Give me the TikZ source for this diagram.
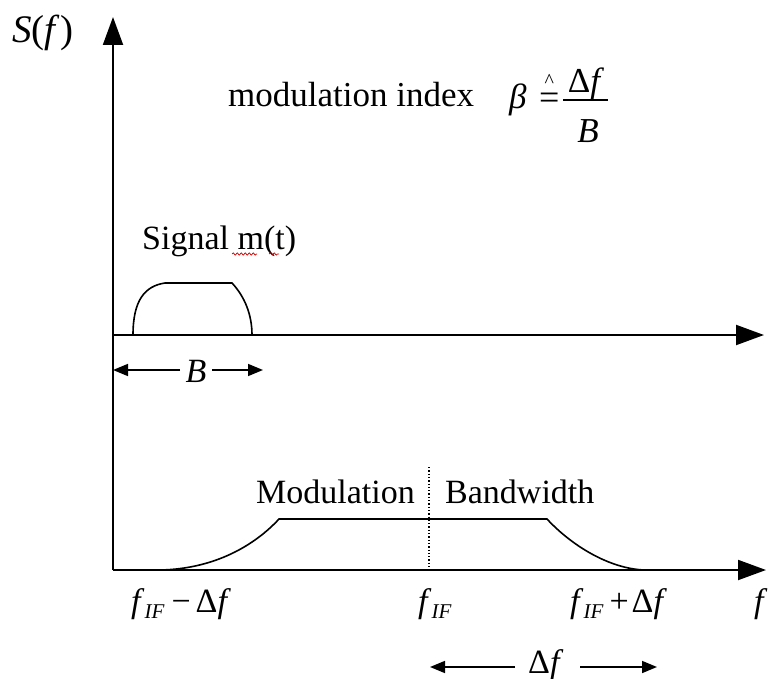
\documentclass[tikz,border=0pt]{standalone}
\usepackage{fontspec}
\setmainfont{Liberation Serif}
\usetikzlibrary{arrows.meta,decorations.pathmorphing}
\newcommand{\mysub}[1]{\raisebox{-6pt}{\fontsize{21}{21}\selectfont\textit{#1}}}
\tikzset{
  axis/.style={line width=2pt,-{Triangle[length=28pt,width=20pt]}},
  curve/.style={line width=1.6pt},
  dimarrow/.style={line width=1.6pt,-{Triangle[length=15pt,width=12pt]}},
  lbl/.style={inner sep=0pt,anchor=base west,font=\fontsize{34}{40}\selectfont},
  wavy/.style={red!80!black,line width=0.7pt,decorate,decoration={snake,amplitude=1.2pt,segment length=4pt}}
}
\begin{document}
\begin{tikzpicture}[x=1pt,y=-1pt]
\useasboundingbox (0,0) rectangle (771,679);
% axes
\coordinate (O) at (113,570);
\coordinate (Yt) at (113,17);
\coordinate (U0) at (113,335);
\coordinate (Ut) at (764,335);
\coordinate (Bt) at (766,570);
\draw[line width=2pt] (O) -- (113,46);
\draw[axis] (113,60) -- (Yt);
\draw[axis] (U0) -- (Ut);
\draw[axis] (O) -- (Bt);
% upper bump
\draw[curve] (133,335) .. controls (133,300) and (145,286) .. (165,283) -- (232,283) .. controls (245,297) and (252,315) .. (252,335);
% lower spectrum
\draw[curve] (160,570) .. controls (215,569) and (255,545) .. (279,519) -- (547,519) .. controls (572,546) and (610,569) .. (645,570);
% dotted line
\coordinate (Dt) at (429,467);
\coordinate (Db) at (429,568);
\draw[line width=1.3pt,dotted] (Dt) -- (Db);
% labels
\node[lbl,font=\fontsize{39}{44}\selectfont] (S) at (12,43) {\textit{S}(\textit{f})};
\node[lbl,font=\fontsize{35}{40}\selectfont] (mi) at (228,107) {modulation index};
% formula
\node[lbl,font=\fontsize{35}{40}\selectfont] (beta) at (509,109) {\textit{β}};
\node[lbl,font=\fontsize{36}{40}\selectfont] (eq) at (539,110) {\ooalign{=\cr\hidewidth\raisebox{0.62em}{\fontsize{20}{20}\selectfont\^{}}\hidewidth\cr}};
\coordinate (fl) at (563,100);
\coordinate (fr) at (608,100);
\draw[line width=1.4pt] (fl) -- (fr);
\node[inner sep=0pt,anchor=base,font=\fontsize{35}{40}\selectfont] (num) at (586,93) {Δ\textit{f}};
\node[inner sep=0pt,anchor=base,font=\fontsize{35}{40}\selectfont\itshape] (den) at (588,143) {B};
\node[lbl] (sig) at (142,250) {Signal m(t)};
\draw[wavy] (232,254) -- (257,254);
\draw[wavy] (269,254) -- (279,254);
\node[lbl,anchor=base,font=\fontsize{34}{40}\selectfont\itshape] (B) at (196,382) {B};
\coordinate (Bl) at (113,370);
\coordinate (Br) at (263,370);
\draw[dimarrow] (180,370) -- (Bl);
\draw[dimarrow] (212,370) -- (Br);
\node[lbl] (mod) at (256,503) {Modulation};
\node[lbl] (bw) at (445,503) {Bandwidth};
\node[lbl] (f1) at (131,612) {\textit{f}\mysub{IF}\hspace{7pt}−\hspace{5pt}Δ\textit{f}};
\node[lbl] (f2) at (418,612) {\textit{f}\mysub{IF}};
\node[lbl] (f3) at (570,612) {\textit{f}\mysub{IF}\hspace{6pt}+\hspace{3pt}Δ\textit{f}};
\node[lbl] (f4) at (754,612) {\textit{f}};
\node[lbl] (df) at (528,673) {Δ\textit{f}};
\coordinate (Dl) at (430,667);
\coordinate (Dr) at (657,667);
\draw[dimarrow] (515,667) -- (Dl);
\draw[dimarrow] (580,667) -- (Dr);
\end{tikzpicture}
\end{document}
